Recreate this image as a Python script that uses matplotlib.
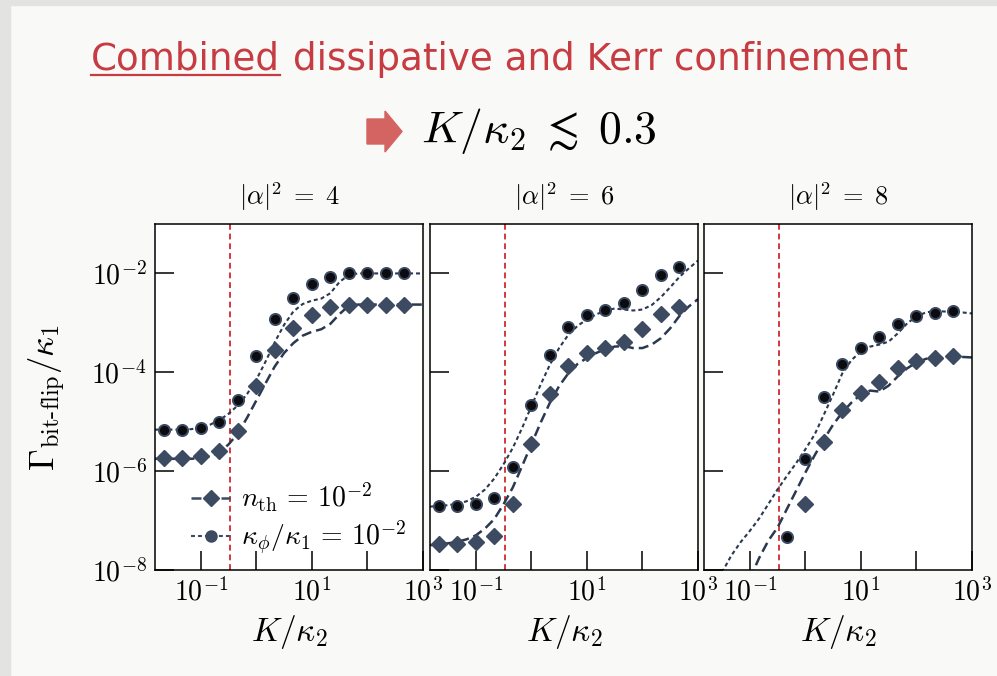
import matplotlib
matplotlib.use("Agg")
import matplotlib.pyplot as plt
from matplotlib.lines import Line2D
from matplotlib.patches import Polygon, Rectangle
from matplotlib.ticker import NullLocator
import numpy as np

plt.rcParams.update({
    "mathtext.fontset": "cm",
    "font.family": "DejaVu Sans",
    "axes.linewidth": 1.1,
})

W, H = 997, 676

# K / kappa_2 values of the simulated points (three per decade)
k_pts = np.array([0.0215, 0.0464, 0.1, 0.215, 0.464, 1.0, 2.15, 4.64,
                  10.0, 21.5, 46.4, 100.0, 215.0, 464.0])
# K / kappa_2 grid of the model curves (six per decade)
k_curve = np.array([0.0147, 0.0215, 0.0316, 0.0464, 0.0681, 0.1, 0.147, 0.215,
                    0.316, 0.464, 0.681, 1.0, 1.47, 2.15, 3.16, 4.64, 6.81, 10.0,
                    14.7, 21.5, 31.6, 46.4, 68.1, 100.0, 147.0, 215.0, 316.0,
                    464.0, 681.0, 1000.0])

alpha_sq = [4, 6, 8]
k_threshold = 0.33
nan = np.nan

# log10(Gamma_bitflip / kappa_1), thermal noise n_th = 1e-2
nth_pts = [
    [-5.73, -5.73, -5.70, -5.60, -5.19, -4.28, -3.55, -3.11, -2.84, -2.67, -2.63, -2.63, -2.63, -2.63],
    [-7.48, -7.48, -7.44, -7.31, -6.67, -5.45, -4.43, -3.88, -3.61, -3.51, -3.38, -3.12, -2.83, -2.67],
    [nan, nan, nan, nan, nan, -6.67, -5.41, -4.76, -4.41, -4.20, -3.92, -3.78, -3.71, -3.68],
]
# log10(Gamma_bitflip / kappa_1), dephasing kappa_phi / kappa_1 = 1e-2
kphi_pts = [
    [-5.16, -5.16, -5.13, -5.01, -4.57, -3.68, -2.93, -2.50, -2.22, -2.07, -2.00, -1.99, -1.99, -2.00],
    [-6.70, -6.70, -6.67, -6.54, -5.91, -4.67, -3.65, -3.09, -2.85, -2.73, -2.60, -2.34, -2.03, -1.88],
    [nan, nan, nan, nan, -7.33, -5.76, -4.50, -3.83, -3.51, -3.28, -3.02, -2.86, -2.81, -2.76],
]

nth_curve = [
    [-5.75, -5.75, -5.75, -5.75, -5.75, -5.73, -5.70, -5.62, -5.46, -5.24, -4.92, -4.57,
     -4.22, -3.88, -3.61, -3.41, -3.26, -3.18, -3.13, -3.02, -2.82, -2.65, -2.63, -2.63,
     -2.63, -2.63, -2.63, -2.63, -2.63, -2.63],
    [-7.50, -7.48, -7.46, -7.43, -7.38, -7.30, -7.16, -6.97, -6.67, -6.33, -5.90, -5.46,
     -5.02, -4.62, -4.28, -4.02, -3.83, -3.71, -3.61, -3.53, -3.48, -3.47, -3.51, -3.51,
     -3.44, -3.31, -3.11, -2.86, -2.67, -2.52],
    [nan, nan, nan, nan, nan, -8.18, -7.76, -7.41, -7.14, -6.77, -6.40, -6.03,
     -5.68, -5.36, -5.06, -4.81, -4.61, -4.45, -4.37, -4.39, -4.27, -4.08, -3.92, -3.80,
     -3.73, -3.69, -3.70, -3.68, -3.69, -3.70],
]
kphi_curve = [
    [-5.16, -5.16, -5.16, -5.16, -5.15, -5.11, -5.06, -4.97, -4.84, -4.67, -4.44, -4.15,
     -3.78, -3.39, -3.04, -2.77, -2.62, -2.55, -2.51, -2.40, -2.17, -2.03, -2.00, -2.00,
     -2.00, -2.00, -2.00, -2.00, -2.00, -2.00],
    [-6.72, -6.70, -6.69, -6.66, -6.61, -6.52, -6.37, -6.15, -5.86, -5.53, -5.13, -4.69,
     -4.25, -3.85, -3.51, -3.24, -3.06, -2.93, -2.83, -2.75, -2.71, -2.73, -2.75, -2.73,
     -2.64, -2.48, -2.28, -2.07, -1.90, -1.74],
    [nan, nan, -8.05, -7.71, -7.44, -7.21, -6.96, -6.67, -6.37, -6.10, -5.84, -5.56,
     -5.26, -4.86, -4.45, -4.02, -3.75, -3.58, -3.48, -3.44, -3.38, -3.21, -3.01, -2.87,
     -2.79, -2.76, -2.77, -2.78, -2.79, -2.81],
]

x_ticks = [1e-1, 1e0, 1e1, 1e2, 1e3]
x_ticklabels = [r"$10^{-1}$", "", r"$10^{1}$", "", r"$10^{3}$"]
y_ticks = [1e-8, 1e-6, 1e-4, 1e-2]
y_ticklabels = [r"$10^{-8}$", r"$10^{-6}$", r"$10^{-4}$", r"$10^{-2}$"]

RED = "#c63c42"
ARROW = "#d46461"
SLATE = "#3c4b61"
LINE = "#2a3850"
BG = "#f9f9f7"


def px(x, y):
    """Pixel position (origin top-left) to figure fraction."""
    return x / W, 1 - y / H


fig = plt.figure(figsize=(W / 100, H / 100), dpi=100, facecolor=BG)
fig.patches.append(Rectangle((0, 1 - 5 / H), 1, 5 / H, transform=fig.transFigure,
                             color="#e3e3e1", zorder=0))
fig.patches.append(Rectangle((0, 0), 10 / W, 1, transform=fig.transFigure,
                             color="#e3e3e1", zorder=0))

# slide heading with underlined first word
renderer = fig.canvas.get_renderer()
t1 = fig.text(*px(91, 70), "Combined", fontsize=26.8, color=RED, va="baseline")
bb = t1.get_window_extent(renderer)
fig.text(bb.x1 / W + 13 / W, 1 - 70 / H, "dissipative and Kerr confinement",
         fontsize=26.8, color=RED, va="baseline")
uy = 1 - 75 / H
fig.lines.append(Line2D([bb.x0 / W, bb.x1 / W], [uy, uy], transform=fig.transFigure,
                        color=RED, lw=1.6))

arrow_px = [(367, 119), (385, 119), (385, 111), (402, 131.5), (385, 152), (385, 144), (367, 144)]
fig.patches.append(Polygon([px(x, y) for x, y in arrow_px], closed=True,
                           transform=fig.transFigure, color=ARROW))
fig.text(*px(421, 143), r"$K/\kappa_2\;\lesssim\;0.3$", fontsize=33, va="baseline")

lefts = [155, 430, 704]
axes = []
for i, l in enumerate(lefts):
    ax = fig.add_axes([l / W, 1 - 570 / H, 268 / W, 346 / H])
    axes.append(ax)
    ax.set_xscale("log")
    ax.set_yscale("log")
    ax.set_xlim(0.015, 1000)
    ax.set_ylim(1e-8, 1e-1)

    ax.axvline(k_threshold, color="#d0393f", lw=1.4, ls=(0, (3, 2)), zorder=1.5)
    ax.plot(k_curve, 10 ** np.array(nth_curve[i]), color=LINE, lw=1.8,
            ls=(0, (4, 2)), zorder=2)
    ax.plot(k_curve, 10 ** np.array(kphi_curve[i]), color=LINE, lw=1.5,
            ls=(0, (1.9, 1.45)), zorder=2)
    ax.plot(k_pts, 10 ** np.array(nth_pts[i]), "D", ms=8.5, color=SLATE,
            mec=SLATE, zorder=3)
    ax.plot(k_pts, 10 ** np.array(kphi_pts[i]), "o", ms=8, mfc="#0b0b10",
            mec=SLATE, mew=1.4, zorder=3)

    ax.set_xticks(x_ticks)
    ax.set_xticklabels(x_ticklabels)
    ax.set_yticks(y_ticks)
    ax.set_yticklabels(y_ticklabels if i == 0 else [])
    ax.xaxis.set_minor_locator(NullLocator())
    ax.yaxis.set_minor_locator(NullLocator())
    ax.tick_params(direction="in", length=13.5, width=1.1, labelsize=20, pad=6,
                   top=False, right=False)
    ax.set_title(r"$|\alpha|^2\;=\;%d$" % alpha_sq[i], fontsize=19, pad=13.5)
    ax.set_xlabel(r"$K/\kappa_2$", fontsize=24, labelpad=4)

axes[0].set_ylabel(r"$\Gamma_{\text{bit-flip}}/\kappa_1$", fontsize=25)
axes[0].yaxis.set_label_coords(-0.325, 0.5)

handles = [
    Line2D([], [], color=SLATE, lw=1.8, ls=(0, (4, 2)), marker="D", ms=8.5),
    Line2D([], [], color=SLATE, lw=1.5, ls=(0, (1.9, 1.45)), marker="o", ms=8,
           mfc=SLATE, mec=SLATE),
]
axes[0].legend(handles, [r"$n_{\rm th}\,=\,10^{-2}$", r"$\kappa_\phi/\kappa_1\,=\,10^{-2}$"],
               loc="lower left", bbox_to_anchor=(0.135, 0.04), frameon=False,
               fontsize=20, handlelength=1.4, handletextpad=0.4,
               labelspacing=0.15, borderpad=0, borderaxespad=0, numpoints=1)

fig.savefig("out.png", dpi=100, facecolor=BG)
